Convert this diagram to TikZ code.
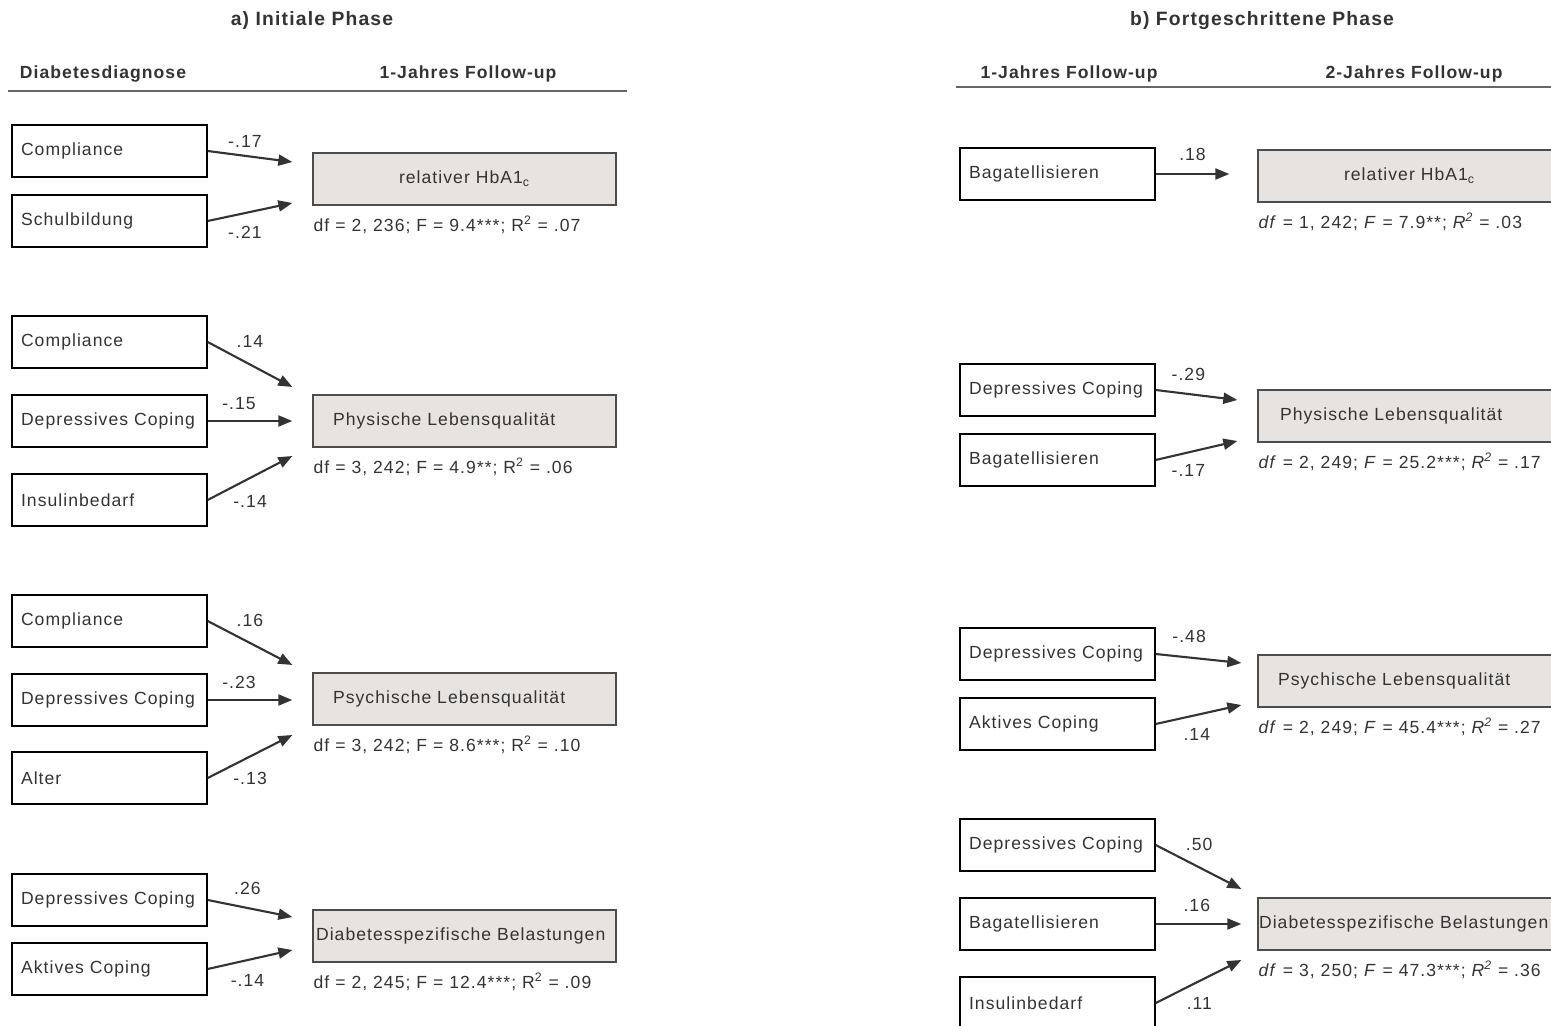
\documentclass[tikz,border=0pt]{standalone}
\usepackage{fontspec}
\setmainfont{Liberation Sans}[LetterSpace=6]
\usetikzlibrary{arrows.meta,positioning,calc}
\definecolor{boxgray}{HTML}{E7E3E0}
\definecolor{ink}{HTML}{333333}
\begin{document}
\begin{tikzpicture}
[x=0.02cm, y=-0.02cm,
 every node/.style={font=\fontsize{10}{12}\selectfont, text=ink},
 title/.style={font=\bfseries\fontsize{11}{13}\selectfont},
 header/.style={font=\bfseries\fontsize{10}{12}\selectfont},
 rule/.style={draw=black!60, line width=0.8pt},
 predictor/.style={draw=black, line width=0.8pt, minimum height=1.04cm,
   text width=3.54cm, inner xsep=0.18cm, align=left},
 outcome/.style={draw=black!70, fill=boxgray, line width=0.8pt,
   minimum width=6.06cm, minimum height=1.04cm},
 stat/.style={inner sep=0pt, below right=0.2cm and 0.02cm of #1.south west},
 effect/.style={draw=ink, line width=1.2pt, -{Triangle[length=0.28cm,width=0.22cm]}},
 coef/.style={inner sep=1pt}]
\useasboundingbox (0,0) rectangle (1551,1026);
\clip (0,0) rectangle (1551,1026);

% a) Initiale Phase
\node[title] (titleA) at (312,21) {a) Initiale Phase};
\node[header] (colA1) at (103,74) {Diabetesdiagnose};
\node[header] (colA2) at (468,74) {1-Jahres Follow-up};
\draw[rule] (8,91) -- (627,91);

\node[predictor] (a11) at (109.5,151) {Compliance};
\node[predictor] (a12) at (109.5,221) {Schulbildung};
\node[outcome] (oa1) at (464.5,179) {relativer HbA1\textsubscript{c}};
\node[stat=oa1] (sa1) {df = 2, 236; F = 9.4***; R\textsuperscript{2} = .07};
\draw[effect] (a11.east) -- ($(oa1.west)+(-20,-17)$) node[coef, pos=.44, above=3.4pt] {-.17};
\draw[effect] (a12.east) -- ($(oa1.west)+(-20,24)$) node[coef, pos=.44, below=6pt] {-.21};

\node[predictor] (a21) at (109.5,342) {Compliance};
\node[predictor] (a22) at (109.5,421) {Depressives~Coping};
\node[predictor] (a23) at (109.5,500) {Insulinbedarf};
\node[outcome, text width=5.26cm, inner xsep=0.4cm, align=left] (oa2) at (464.5,421) {Physische Lebensqualität};
\node[stat=oa2] (sa2) {df = 3, 242; F = 4.9**; R\textsuperscript{2} = .06};
\draw[effect] (a21.east) -- ($(oa2.west)+(-20,-34)$) node[coef, pos=.31, anchor=south west, yshift=3pt] {.14};
\draw[effect] (a22.east) -- ($(oa2.west)+(-20,0)$) node[coef, pos=.37, above=5pt] {-.15};
\draw[effect] (a23.east) -- ($(oa2.west)+(-20,35)$) node[coef, pos=.27, anchor=north west, yshift=-2.3pt] {-.14};

\node[predictor] (a31) at (109.5,621) {Compliance};
\node[predictor] (a32) at (109.5,700) {Depressives~Coping};
\node[predictor] (a33) at (109.5,778) {Alter};
\node[outcome, text width=5.26cm, inner xsep=0.4cm, align=left] (oa3) at (464.5,699) {Psychische Lebensqualität};
\node[stat=oa3] (sa3) {df = 3, 242; F = 8.6***; R\textsuperscript{2} = .10};
\draw[effect] (a31.east) -- ($(oa3.west)+(-20,-34)$) node[coef, pos=.31, anchor=south west, yshift=3pt] {.16};
\draw[effect] (a32.east) -- ($(oa3.west)+(-20,1)$) node[coef, pos=.37, above=5pt] {-.23};
\draw[effect] (a33.east) -- ($(oa3.west)+(-20,36)$) node[coef, pos=.27, anchor=north west, yshift=-2pt] {-.13};

\node[predictor] (a41) at (109.5,900) {Depressives~Coping};
\node[predictor] (a42) at (109.5,969) {Aktives Coping};
\node[outcome, text width=5.94cm, inner xsep=0.06cm, align=left] (oa4) at (464.5,936) {Diabetesspezifische~Belastungen};
\node[stat=oa4] (sa4) {df = 2, 245; F = 12.4***; R\textsuperscript{2} = .09};
\draw[effect] (a41.east) -- ($(oa4.west)+(-20,-19)$) node[coef, pos=.47, above=6pt] {.26};
\draw[effect] (a42.east) -- ($(oa4.west)+(-20,14)$) node[coef, pos=.47, below=6.5pt] {-.14};

% b) Fortgeschrittene Phase
\node[title] (titleB) at (1262,21) {b) Fortgeschrittene Phase};
\node[header] (colB1) at (1069,74) {1-Jahres Follow-up};
\node[header] (colB2) at (1414,74) {2-Jahres Follow-up};
\draw[rule] (956,87) -- (1551,87);

\node[predictor] (b11) at (1057.5,174) {Bagatellisieren};
\node[outcome] (ob1) at (1409.5,176) {relativer HbA1\textsubscript{c}};
\node[stat=ob1] (sb1) {\textit{df} = 1, 242; \textit{F} = 7.9**; \textit{R\textsuperscript{2}} = .03};
\draw[effect] (b11.east) -- ($(ob1.west)+(-28,-2)$) node[coef, pos=.5, above=5.7pt] {.18};

\node[predictor] (b21) at (1057.5,390) {Depressives~Coping};
\node[predictor] (b22) at (1057.5,460) {Bagatellisieren};
\node[outcome, text width=5.18cm, inner xsep=0.44cm, align=left] (ob2) at (1409.5,416) {Physische Lebensqualität};
\node[stat=ob2] (sb2) {\textit{df} = 2, 249; \textit{F} = 25.2***; \textit{R\textsuperscript{2}} = .17};
\draw[effect] (b21.east) -- ($(ob2.west)+(-20,-16)$) node[coef, pos=.4, above=6.2pt] {-.29};
\draw[effect] (b22.east) -- ($(ob2.west)+(-20,25)$) node[coef, pos=.4, below=5.5pt] {-.17};

\node[predictor] (b31) at (1057.5,654) {Depressives~Coping};
\node[predictor] (b32) at (1057.5,724) {Aktives Coping};
\node[outcome, text width=5.26cm, inner xsep=0.4cm, align=left] (ob3) at (1409.5,681) {Psychische Lebensqualität};
\node[stat=ob3] (sb3) {\textit{df} = 2, 249; \textit{F} = 45.4***; \textit{R\textsuperscript{2}} = .27};
\draw[effect] (b31.east) -- ($(ob3.west)+(-16,-18)$) node[coef, pos=.39, above=6.6pt] {-.48};
\draw[effect] (b32.east) -- ($(ob3.west)+(-16,24)$) node[coef, pos=.48, below=6pt] {.14};

\node[predictor] (b41) at (1057.5,845) {Depressives~Coping};
\node[predictor] (b42) at (1057.5,924) {Bagatellisieren};
\node[predictor] (b43) at (1057.5,1003) {Insulinbedarf};
\node[outcome, text width=6.02cm, inner xsep=0.02cm, align=left] (ob4) at (1409.5,924) {Diabetesspezifische~Belastungen};
\node[stat=ob4] (sb4) {\textit{df} = 3, 250; \textit{F} = 47.3***; \textit{R\textsuperscript{2}} = .36};
\draw[effect] (b41.east) -- ($(ob4.west)+(-16,-35)$) node[coef, pos=.32, anchor=south west, yshift=3pt] {.50};
\draw[effect] (b42.east) -- ($(ob4.west)+(-16,0)$) node[coef, pos=.48, above=5.7pt] {.16};
\draw[effect] (b43.east) -- ($(ob4.west)+(-16,36)$) node[coef, pos=.33, anchor=north west, yshift=-3.4pt] {.11};
\end{tikzpicture}
\end{document}
